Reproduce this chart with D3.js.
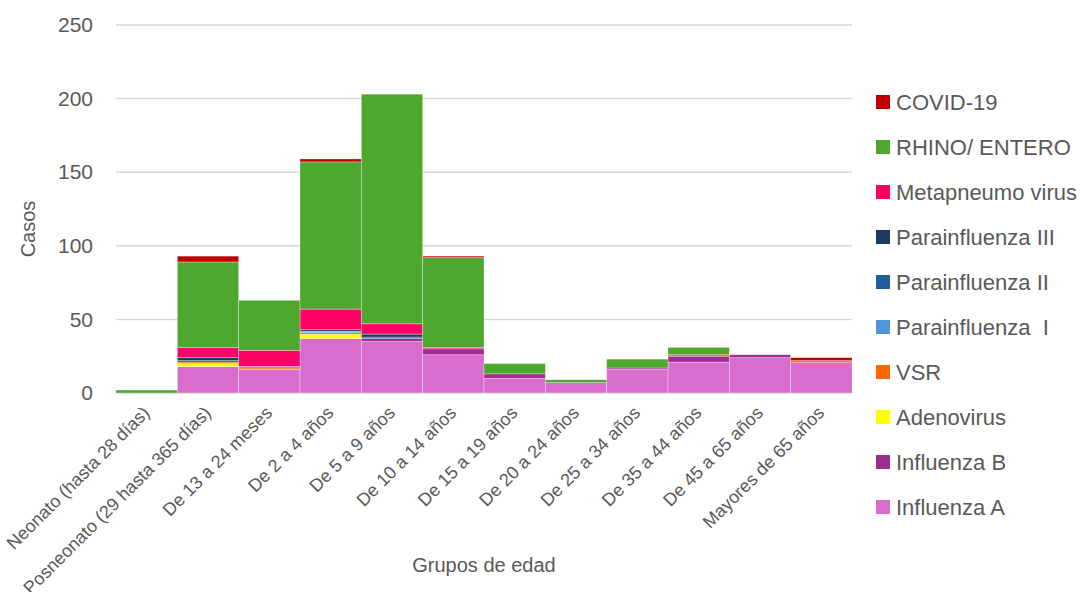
<!DOCTYPE html>
<html>
<head>
<meta charset="utf-8">
<script src="https://cdn.jsdelivr.net/npm/d3@7"></script>
<style>
  body { margin: 0; background: #fff; }
  #canvas { width: 1091px; height: 592px; }
  text { font-family: "Liberation Sans", Arial, sans-serif; fill: #595959; }
</style>
</head>
<body>
<div id="canvas"></div>
<script>
// age groups (x categories)
const categories = [
  "Neonato (hasta 28 días)", "Posneonato (29 hasta 365 días)", "De 13 a 24 meses",
  "De 2 a 4 años", "De 5 a 9 años", "De 10 a 14 años", "De 15 a 19 años",
  "De 20 a 24 años", "De 25 a 34 años", "De 35 a 44 años", "De 45 a 65 años",
  "Mayores de 65 años"
];

// series values, bottom of the stack first
const influenzaA   = [0, 18, 16, 37, 35, 26, 10, 7, 16, 21, 24, 21];
const influenzaB   = [0, 0, 0, 0, 2, 4, 3, 0, 1, 4, 2, 0];
const adenovirus   = [0, 2, 0, 3, 0, 0, 0, 0, 0, 0, 0, 0];
const vsr          = [0, 1, 1, 1, 0, 0, 0, 0, 0, 1, 0, 1];
const parainf1     = [0, 0, 1, 1, 0, 0, 0, 0, 0, 0, 0, 0];
const parainf2     = [0, 1, 0, 0, 1, 0, 0, 0, 0, 0, 0, 0];
const parainf3     = [0, 2, 0, 1, 2, 0, 0, 0, 0, 0, 0, 0];
const metapneumo   = [0, 7, 11, 14, 7, 1, 0, 0, 0, 0, 0, 0];
const rhinoEntero  = [2, 58, 34, 100, 156, 61, 7, 2, 6, 5, 0, 0];
const covid19      = [0, 4, 0, 2, 0, 1, 0, 0, 0, 0, 0, 2];

const yTicks = [0, 50, 100, 150, 200, 250];

const seriesNames = ["Influenza A", "Influenza B", "Adenovirus", "VSR", "Parainfluenza  I",
  "Parainfluenza II", "Parainfluenza III", "Metapneumo virus", "RHINO/ ENTERO", "COVID-19"];
const seriesValues = [influenzaA, influenzaB, adenovirus, vsr, parainf1,
  parainf2, parainf3, metapneumo, rhinoEntero, covid19];
const seriesColors = ["#d86dcd", "#a02b93", "#ffff00", "#ff6600", "#4e95d9",
  "#215f9a", "#1b3a5c", "#ff0066", "#4ea72e", "#c00000"];

const w = 1091;
const h = 592;
const plot = { left: 116, right: 852, top: 25, bottom: 393 };

const table = categories.map(function(c, i) {
  let row = { cat: c };
  seriesNames.forEach(function(s, j) { row[s] = seriesValues[j][i]; });
  return row;
});

const svg = d3.select("#canvas")
  .append("svg")
  .attr("width", w)
  .attr("height", h);

const x = d3.scaleBand()
  .domain(categories)
  .range([plot.left, plot.right])
  .padding(0);

const y = d3.scaleLinear()
  .domain([0, 250])
  .range([plot.bottom, plot.top]);

// gridlines
svg.append("g")
  .selectAll("line")
  .data(yTicks)
  .enter()
    .append("line")
    .attr("x1", plot.left)
    .attr("x2", plot.right)
    .attr("y1", d => y(d))
    .attr("y2", d => y(d))
    .attr("stroke", "#d9d9d9")
    .attr("stroke-width", 1.5);

// stacked bars
const stacked = d3.stack().keys(seriesNames)(table);

svg.append("g")
  .selectAll("g")
  .data(stacked)
  .enter()
    .append("g")
    .attr("fill", (d, i) => seriesColors[i])
    .selectAll("rect")
    .data(d => d.filter(p => p[1] - p[0] > 0))
    .enter()
      .append("rect")
      .attr("x", d => x(d.data.cat))
      .attr("width", x.bandwidth())
      .attr("y", d => y(d[1]))
      .attr("height", d => y(d[0]) - y(d[1]))
      .attr("stroke", "#ffffff")
      .attr("stroke-opacity", 0.45)
      .attr("stroke-width", 0.7);

// y axis
const yAxis = svg.append("g")
  .attr("transform", "translate(" + plot.left + ",0)")
  .call(d3.axisLeft(y).tickValues(yTicks).tickSize(0).tickPadding(23));
yAxis.select(".domain").remove();
yAxis.selectAll("text")
  .attr("font-size", 21)
  .style("font-family", "'Liberation Sans', Arial, sans-serif")
  .attr("fill", "#595959");

// x labels
svg.append("g")
  .selectAll("text")
  .data(categories)
  .enter()
    .append("text")
    .attr("transform", d => "translate(" + (x(d) + x.bandwidth() / 2 + 4) + ",414) rotate(-45)")
    .attr("text-anchor", "end")
    .attr("font-size", 18)
    .text(d => d);

// axis titles
svg.append("text")
  .attr("transform", "translate(35,229) rotate(-90)")
  .attr("text-anchor", "middle")
  .attr("font-size", 20)
  .text("Casos");

svg.append("text")
  .attr("x", 484)
  .attr("y", 572)
  .attr("text-anchor", "middle")
  .attr("font-size", 20)
  .text("Grupos de edad");

// legend, top entry is the top of the stack
const legendItems = seriesNames.map((s, i) => ({ name: s, color: seriesColors[i] })).reverse();

let legend = svg.append("g")
  .selectAll("g")
  .data(legendItems)
  .enter()
    .append("g")
    .attr("transform", (d, i) => "translate(876," + (102 + i * 45) + ")");

legend.append("rect")
  .attr("x", 0)
  .attr("y", -7)
  .attr("width", 14)
  .attr("height", 14)
  .attr("fill", d => d.color);

legend.append("text")
  .attr("x", 20)
  .attr("dy", "0.36em")
  .attr("font-size", 22)
  .style("white-space", "pre")
  .text(d => d.name);
</script>
</body>
</html>
